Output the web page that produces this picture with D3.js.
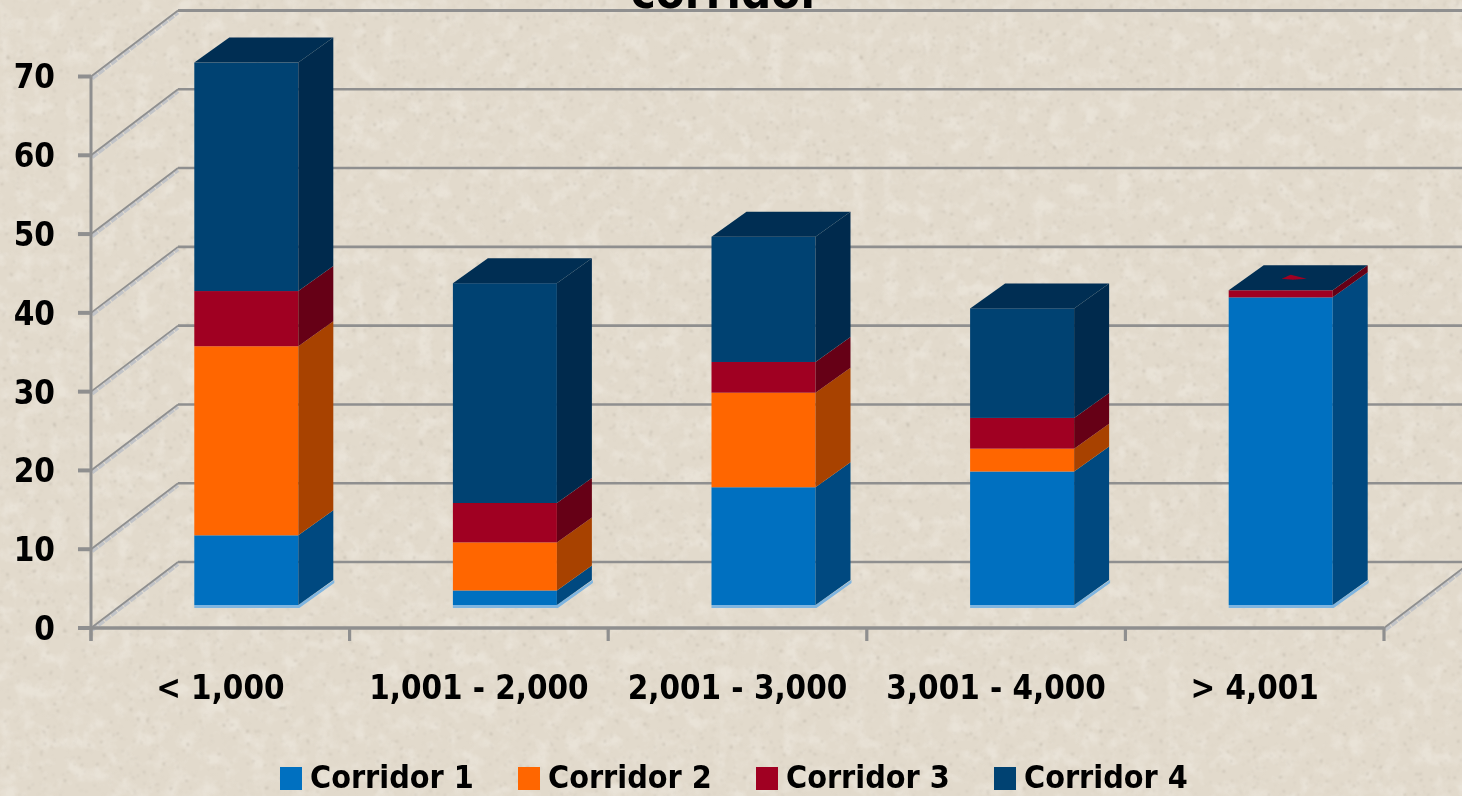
<!DOCTYPE html>
<html><head><meta charset="utf-8">
<script src="https://d3js.org/d3.v7.min.js"></script>
<style>html,body{margin:0;padding:0;background:#e3dbcd;overflow:hidden}</style>
</head><body><svg id="c" width="1462" height="796"></svg>
<script>
const categories = ["< 1,000","1,001 - 2,000","2,001 - 3,000","3,001 - 4,000","> 4,001"];
const seriesNames = ["Corridor 1","Corridor 2","Corridor 3","Corridor 4"];
const corridor1 = [9.1,2.1,15.2,17.2,39.3];
const corridor2 = [24.0,6.1,12.0,2.9,0];
const corridor3 = [7.0,5.0,3.9,3.9,0.9];
const corridor4 = [29.0,27.9,15.9,13.9,0];
const yTicks = [0,10,20,30,40,50,60,70];
const titleText = "corridor";

const frontColors = ["#0070c0","#ff6600","#a00020","#004272"];
const sideColors  = ["#004a80","#a84300","#660014","#002c4e"];
const topColors   = ["#004a80","#a84300","#660014","#002f52"];
const font = "'DejaVu Sans Condensed', 'DejaVu Sans', Verdana, sans-serif";

const svg = d3.select("#c");
const defs = svg.append("defs");
const tex = defs.append("filter").attr("id","paper").attr("x",0).attr("y",0).attr("width","100%").attr("height","100%");
tex.append("feTurbulence").attr("type","fractalNoise").attr("baseFrequency",0.3).attr("numOctaves",2).attr("seed",11);
tex.append("feColorMatrix").attr("type","matrix").attr("values",
 "0 0 0 0 0.42  0 0 0 0 0.38  0 0 0 0 0.32  6 6 0 0 -7.7");
tex.append("feGaussianBlur").attr("stdDeviation",0.8);
const tex2 = defs.append("filter").attr("id","paper2").attr("x",0).attr("y",0).attr("width","100%").attr("height","100%");
tex2.append("feTurbulence").attr("type","fractalNoise").attr("baseFrequency",0.06).attr("numOctaves",3).attr("seed",3);
tex2.append("feColorMatrix").attr("type","matrix").attr("values",
 "0 0 0 0 0.96  0 0 0 0 0.94  0 0 0 0 0.90  2 2 0 0 -1.9");
defs.append("filter").attr("id","soft").append("feGaussianBlur").attr("stdDeviation",0.65);
defs.append("filter").attr("id","softer").append("feGaussianBlur").attr("stdDeviation",0.45);

svg.append("rect").attr("width",1462).attr("height",796).attr("fill","#e2dacc");
svg.append("rect").attr("width",1462).attr("height",796).attr("filter","url(#paper2)").attr("opacity",0.3);
svg.append("rect").attr("width",1462).attr("height",796).attr("filter","url(#paper)").attr("opacity",0.6);

const x = d3.scaleBand().domain(categories).range([91,1384]);
const y = d3.scaleLinear().domain([0,70]).range([628,76.5]);
const wallDx = 87, wallDy = -66;
const barW = 104, barDx = 35, barDy = -25, barX = 26, barY = -21;

const chart = svg.append("g").attr("filter","url(#softer)");
const grid = "#8f8f8f";

// floor and wall grid
yTicks.forEach(t=>{
  const yy = y(t);
  chart.append("line").attr("x1",x.range()[0]+1).attr("y1",yy+2).attr("x2",x.range()[0]+wallDx).attr("y2",yy+wallDy+2).attr("stroke","#c2c4c8").attr("stroke-width",4).attr("stroke-dasharray","7 1");
  chart.append("line").attr("x1",x.range()[0]).attr("y1",yy).attr("x2",x.range()[0]+wallDx).attr("y2",yy+wallDy).attr("stroke",grid).attr("stroke-width",1.8);
  chart.append("line").attr("x1",x.range()[0]+wallDx).attr("y1",yy+wallDy).attr("x2",1462).attr("y2",yy+wallDy).attr("stroke",grid).attr("stroke-width",t===70?3.2:2.6);
  chart.append("line").attr("x1",78).attr("y1",yy).attr("x2",91).attr("y2",yy).attr("stroke",grid).attr("stroke-width",4);
});
chart.append("line").attr("x1",1385).attr("y1",y(0)+2).attr("x2",1384+wallDx).attr("y2",y(0)+wallDy+2).attr("stroke","#c2c4c8").attr("stroke-width",4).attr("stroke-dasharray","7 1");
chart.append("line").attr("x1",1384).attr("y1",y(0)).attr("x2",1384+wallDx).attr("y2",y(0)+wallDy).attr("stroke",grid).attr("stroke-width",1.8);

// front axes
chart.append("line").attr("x1",91).attr("y1",y(70)).attr("x2",91).attr("y2",y(0)+13).attr("stroke",grid).attr("stroke-width",3);
chart.append("line").attr("x1",78).attr("y1",y(0)).attr("x2",1384).attr("y2",y(0)).attr("stroke",grid).attr("stroke-width",3.6);
d3.range(categories.length+1).forEach(i=>{
  const tx = x.range()[0]+i*x.step();
  chart.append("line").attr("x1",tx).attr("y1",y(0)).attr("x2",tx).attr("y2",y(0)+13).attr("stroke",grid).attr("stroke-width",3.2);
});

// stacked 3D bars
const rows = categories.map((c,i)=>({cat:c,s0:corridor1[i],s1:corridor2[i],s2:corridor3[i],s3:corridor4[i]}));
const stack = d3.stack().keys(["s0","s1","s2","s3"])(rows);
const poly = p=>p.map(q=>q.join(",")).join(" ");
rows.forEach((r,i)=>{
  const x0 = x(r.cat)+x.bandwidth()/2+barX-barW/2, x1 = x0+barW;
  const g = chart.append("g");
  const yb = y(0)+barY;
  g.append("polygon").attr("points",poly([[x0,yb+1],[x1+1,yb+1],[x1+barDx+1,yb+barDy+1],[x1+barDx+1,yb+barDy-2],[x1,yb-2],[x0,yb-2]])).attr("fill","#7fb5e0");
  stack.forEach((s,k)=>{
    const d = s[i];
    if (d[1]-d[0] <= 0) return;
    const ya = y(d[0])+barY, yc = y(d[1])+barY;
    const lift = k===0?2:0;
    g.append("rect").attr("x",x0).attr("y",yc).attr("width",barW).attr("height",ya-yc-lift).attr("fill",frontColors[k]);
    g.append("polygon").attr("points",poly([[x1,ya-lift],[x1+barDx,ya+barDy-lift],[x1+barDx,yc+barDy],[x1,yc]])).attr("fill",sideColors[k]);
  });
  const top = d3.max(stack,s=>s[i][1]);
  const yt = y(top)+barY;
  g.append("polygon").attr("points",poly([[x0,yt],[x1,yt],[x1+barDx,yt+barDy],[x0+barDx,yt+barDy]])).attr("fill",topColors[3]);
  if (r.s3 === 0) {
    const cx = x0+barW/2+10, cy = yt+barDy/2-1;
    g.append("polygon").attr("points",poly([[cx-9,cy+2],[cx,cy-2],[cx+16,cy+2],[cx+2,cy+3]])).attr("fill",frontColors[2]);
  }
});

// text
const text = svg.append("g").attr("font-family",font).attr("font-weight",700).attr("fill","#000").attr("filter","url(#soft)");
text.append("text").attr("x",726).attr("y",8).attr("text-anchor","middle").attr("font-size",47).text(titleText);
yTicks.forEach(t=>text.append("text").attr("x",55).attr("y",y(t)).attr("dy","0.36em").attr("text-anchor","end").attr("font-size",33).text(t));
categories.forEach(c=>text.append("text").attr("x",x(c)+x.bandwidth()/2).attr("y",699).attr("text-anchor","middle").attr("font-size",32.8).text(c));

// legend
const legendX = [280,518,756,994];
seriesNames.forEach((n,i)=>{
  svg.append("rect").attr("x",legendX[i]).attr("y",767).attr("width",22).attr("height",23).attr("fill",frontColors[i]).attr("filter","url(#softer)");
  text.append("text").attr("x",legendX[i]+30).attr("y",788).attr("font-size",32).text(n);
});
</script></body></html>
